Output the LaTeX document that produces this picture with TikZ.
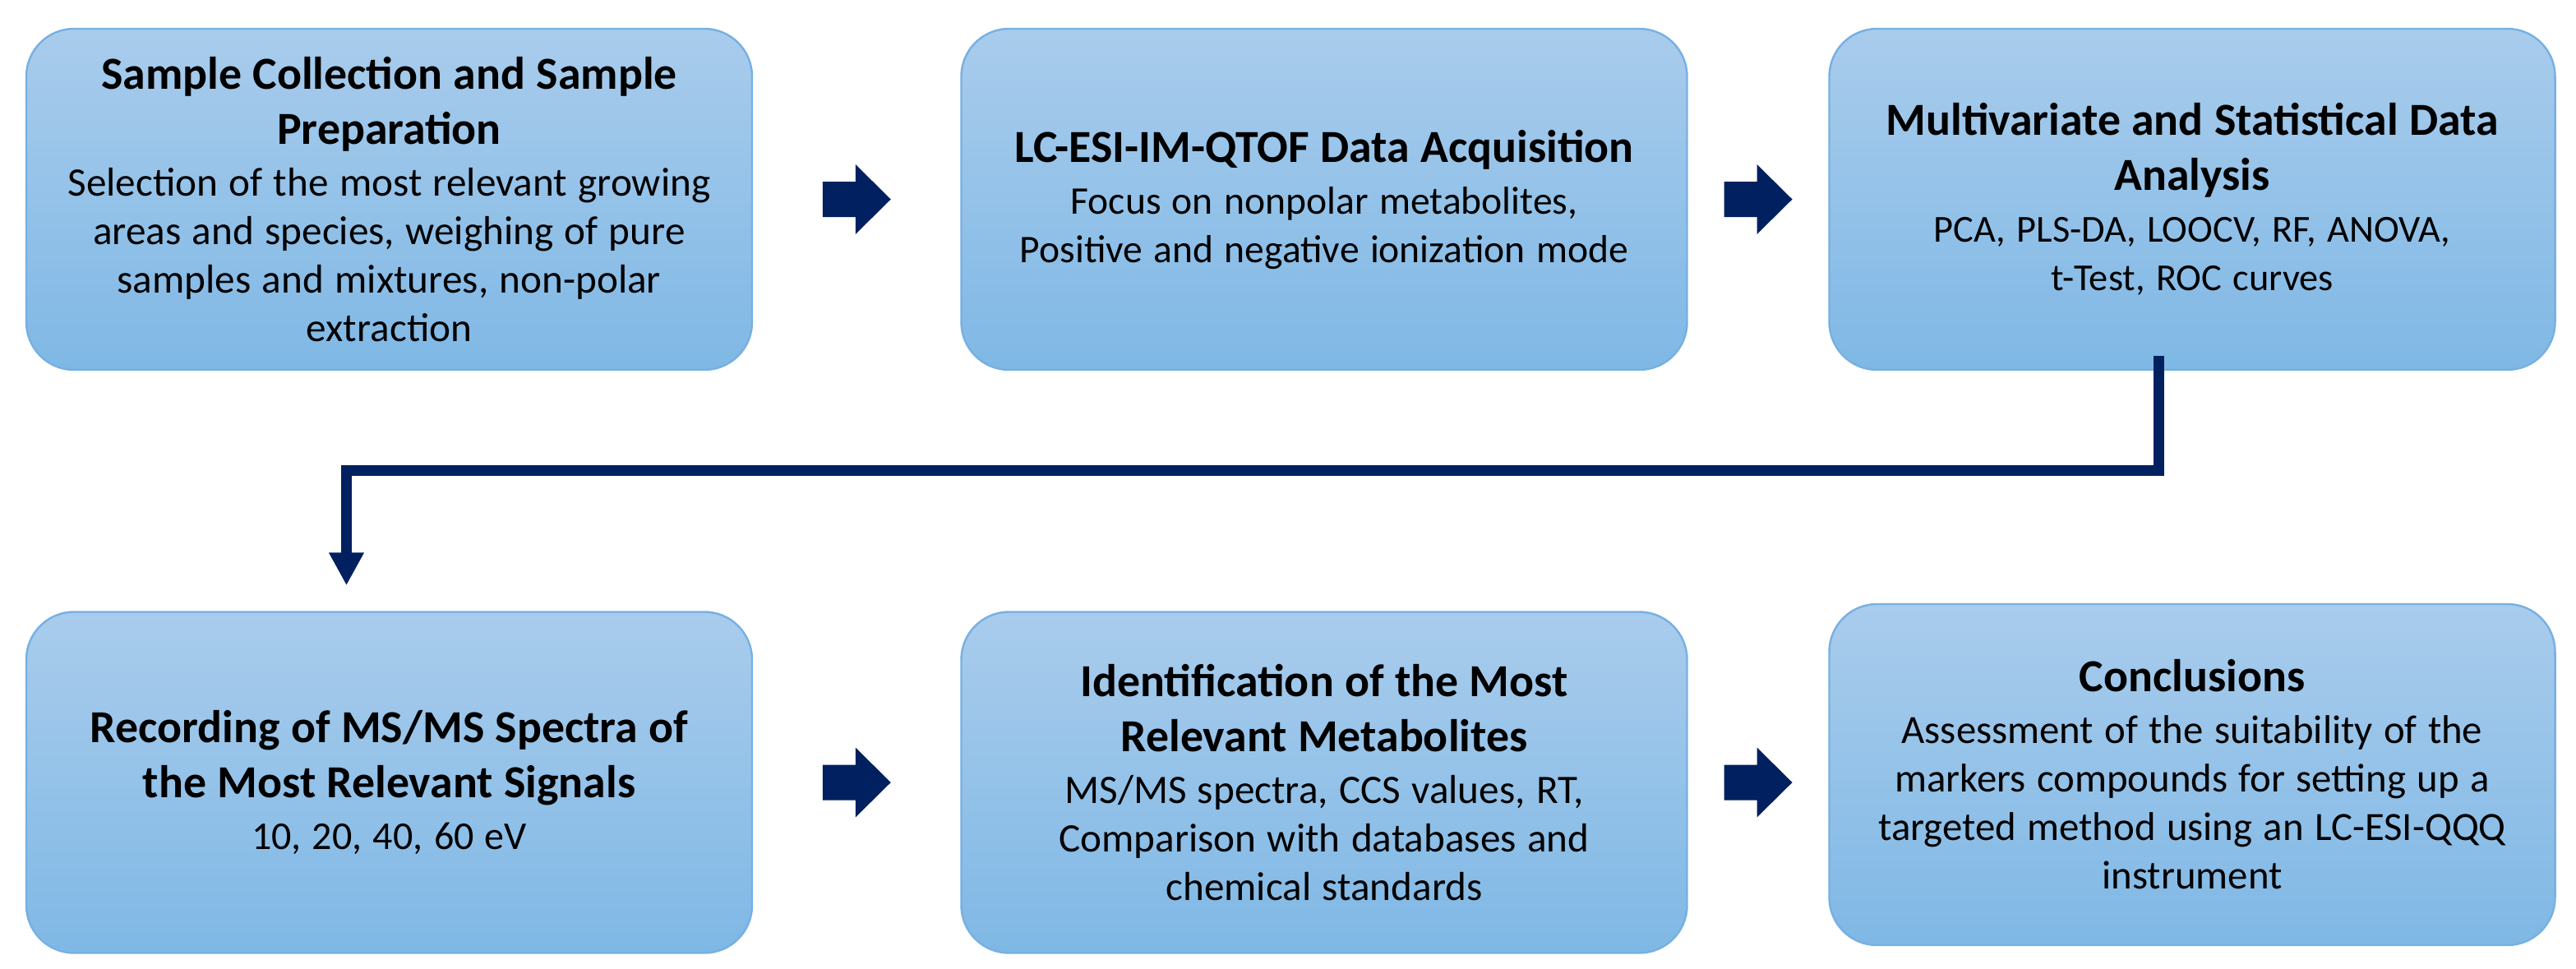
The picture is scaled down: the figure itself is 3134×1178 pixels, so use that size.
\documentclass[tikz,border=0pt]{standalone}
\usepackage{fontspec}
\setmainfont{Carlito}
\usetikzlibrary{arrows.meta,calc}
\definecolor{navy}{HTML}{002060}
\definecolor{boxtop}{HTML}{A9CCEC}
\definecolor{boxbot}{HTML}{7FB8E5}
\definecolor{boxline}{HTML}{76B0E2}
\newcommand\ttlf{\fontsize{13.95pt}{16.75pt}\selectfont\bfseries}
\newcommand\bdyf[1][12.2]{\par\vspace{1pt}\fontsize{#1pt}{14.75pt}\selectfont\mdseries}
\tikzset{
  stepbox/.style={rounded corners=14.5pt, top color=boxtop, bottom color=boxbot,
    draw=boxline, line width=0.6pt, align=center, text width=216pt, inner sep=0pt,
    minimum width=220.75pt, minimum height=103.75pt},
  conn/.style={draw=navy, line width=3.25pt, line join=miter,
    -{Triangle[width=10pt,length=10pt]}},
  rarrow/.pic={\fill[navy] (-41.5,-21.5) -- (-1.5,-21.5) -- (-1.5,-42.5) -- (41.5,0)
    -- (-1.5,42.5) -- (-1.5,21.5) -- (-41.5,21.5) -- cycle;}
}
\begin{document}
\begin{tikzpicture}[x=0.25pt,y=-0.25pt]
\useasboundingbox (0,0) rectangle (3134,1178);
\node[stepbox] (b1) at (473.5,242.5) {\ttlf Sample Collection and Sample\\ Preparation
  \bdyf[12.3] Selection of the most relevant growing\\ areas and species, weighing of pure\\ samples and mixtures, non-polar\\ extraction\par};
\node[stepbox] (b2) at (1611,242.5) {\ttlf LC-ESI-IM-QTOF Data Acquisition
  \bdyf[11.9] Focus on nonpolar metabolites,\\ Positive and negative ionization mode\par};
\node[stepbox] (b3) at (2667,242.5) {\ttlf Multivariate and Statistical Data\\ Analysis
  \bdyf[11.6] PCA, PLS-DA, LOOCV, RF, ANOVA,\\ t-Test, ROC curves\par};
\node[stepbox] (b4) at (473.5,952) {\ttlf Recording of MS/MS Spectra of\\ the Most Relevant Signals
  \bdyf[12] 10, 20, 40, 60 eV\par};
\node[stepbox] (b5) at (1611,952) {\ttlf Identification of the Most\\ Relevant Metabolites
  \bdyf[12.3] MS/MS spectra, CCS values, RT,\\ Comparison with databases and\\ chemical standards\par};
\node[stepbox] (b6) at (2667,942.5) {\ttlf Conclusions
  \bdyf[12.2] Assessment of the suitability of the\\ markers compounds for setting up a\\ targeted method using an LC-ESI-QQQ\\ instrument\par};
% block arrows
\coordinate (m12) at ($(b1.east)!0.5!(b2.west)$);
\coordinate (m23) at ($(b2.east)!0.5!(b3.west)$);
\coordinate (m45) at ($(b4.east)!0.5!(b5.west)$);
\coordinate (m56) at ($(b5.east)!0.5!(b6.west)$);
\pic at (m12) {rarrow};
\pic at (m23) {rarrow};
\pic at (m45) {rarrow};
\pic at (m56 |- b5.east) {rarrow};
% connector
\coordinate (s) at ([xshift=-10.25pt,yshift=4.5pt]b3.south);
\coordinate (hl) at (0,572.5);
\coordinate (e) at ([xshift=-13pt,yshift=7.75pt]b4.north);
\draw[conn] (s) -- (s |- hl) -- (e |- hl) -- (e);
\end{tikzpicture}
\end{document}
